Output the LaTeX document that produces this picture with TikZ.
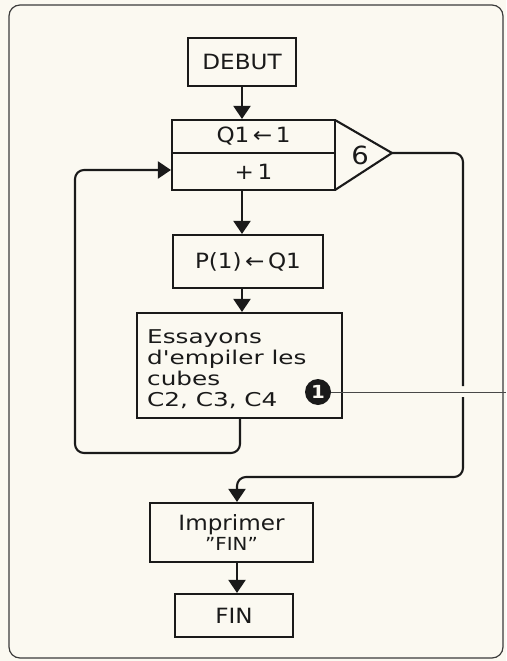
\documentclass[tikz,border=0pt]{standalone}
\usepackage{fontspec}
\setmainfont{DejaVu Sans}[FakeStretch=1.1]
\newfontfamily\widefont{DejaVu Sans}[FakeStretch=1.3]
\usetikzlibrary{arrows.meta}
\definecolor{paper}{HTML}{FBF9F1}
\definecolor{ink}{HTML}{1A1A1A}
\tikzset{
  box/.style={draw=ink, line width=2.1pt, rectangle, inner sep=0pt, align=center, font=\fontsize{21}{24}\selectfont, text=ink},
  flow/.style={draw=ink, line width=2.1pt, -{Triangle[width=17pt,length=13pt]}},
  plain/.style={draw=ink, line width=2.1pt, rounded corners=9pt},
  thin/.style={draw=ink!80, line width=0.9pt},
}
\begin{document}
\begin{tikzpicture}[x=1pt,y=-1pt]
\useasboundingbox (0,0) rectangle (506,661);
\fill[paper] (0,0) rectangle (506,661);
% frame
\draw[ink!85, line width=1.2pt, rounded corners=11pt] (9,5) rectangle (503,658);
% nodes
\node[box, minimum width=108pt, minimum height=48pt] (debut) at (242,62) {DEBUT};
\node[box, minimum width=163pt, minimum height=33pt] (q1) at (253.5,136.5) {Q1\,←\,1};
\node[box, minimum width=163pt, minimum height=37pt] (plus) at (253.5,171.5) {+\,1};
\draw[ink, line width=2.1pt, line join=miter] (335,120) coordinate (ta) -- (392,153) coordinate (tip) -- (335,190) coordinate (tb);
\node[font=\fontsize{25}{26}\selectfont, text=ink] (six) at (360,155) {6};
\node[box, minimum width=150pt, minimum height=53pt] (p) at (248,261.5) {P(1)\,←\,Q1};
\node[box, minimum width=205pt, minimum height=105pt] (ess) at (239.5,365.5) {};
\node[anchor=north west, align=left, inner sep=0pt, font=\widefont\fontsize{19}{21}\selectfont, text=ink] (esstext) at (147,329) {Essayons\\d'empiler les\\cubes\\C2, C3, C4};
\node[circle, fill=ink, minimum size=26pt, inner sep=0pt, text=paper, font=\bfseries\fontsize{18}{18}\selectfont] (one) at (318,392) {1};
\node[box, minimum width=163pt, minimum height=59pt] (impr) at (231.5,532.5) {Imprimer\\[-4pt]{\fontsize{18}{18}\selectfont "FIN"}};
\node[box, minimum width=118pt, minimum height=43pt] (fin) at (234,615.5) {FIN};
% connectors
\draw[flow] (debut.south -| 242,0) -- (q1.north -| 242,0);
\draw[flow] (plus.south -| 242,0) -- (p.north -| 242,0);
\draw[flow] (p.south -| 242,0) -- (ess.north -| 242,0);
\draw[flow, rounded corners=9pt] (ess.south -| 240,0) -- (240,453) -- (75,453) -- (75,170) -- (plus.west |- 0,170);
\draw[plain] (tip) -- (463,153) -- (463,386);
\coordinate (gapend) at (463,397);
\draw[flow, rounded corners=9pt] (gapend) -- (463,477) -- (237,477) -- (impr.north -| 237,0);
\draw[flow] (impr.south -| 237,0) -- (fin.north -| 237,0);
\coordinate (edge) at (506,392);
\draw[thin] (one.east) -- (edge);
\end{tikzpicture}
\end{document}
